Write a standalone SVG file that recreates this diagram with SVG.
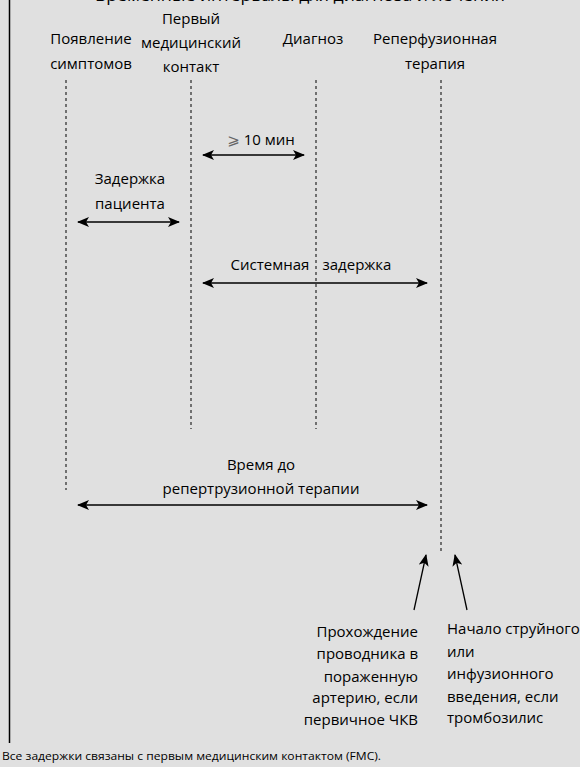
<svg xmlns="http://www.w3.org/2000/svg" width="580" height="767" viewBox="0 0 580 767">
<style>
text{font-family:"Open Sans","Liberation Sans","DejaVu Sans",sans-serif;fill:#000;}
.lb{font-size:15px;text-anchor:middle;}
.bt{font-size:15px;}
.dl{stroke:#000;stroke-width:1;stroke-dasharray:3 3;fill:none;}
.ar{stroke:#000;stroke-width:1.5;fill:none;marker-start:url(#ah);marker-end:url(#ah);}
.ar1{stroke:#000;stroke-width:1.3;fill:none;marker-end:url(#ah);}
</style>
<defs>
<marker id="ah" viewBox="0 0 12 10" refX="11" refY="5" markerWidth="12" markerHeight="10" markerUnits="userSpaceOnUse" orient="auto-start-reverse">
<path d="M0,0 L12,5 L0,10 L3,5 Z" fill="#000"/>
</marker>
</defs>
<rect x="0" y="0" width="580" height="767" fill="#e0e0e0"/>
<line x1="9.5" y1="0" x2="9.5" y2="743" stroke="#000" stroke-width="1.5"/>
<text x="95" y="1" style="font-size:15px" textLength="410" lengthAdjust="spacingAndGlyphs">Временные интервалы для диагноза и лечения</text>

<g id="n-symptoms">
<text class="lb" x="91" y="44">Появление</text>
<text class="lb" x="91" y="69">симптомов</text>
</g>
<g id="n-fmc">
<text class="lb" x="191" y="24">Первый</text>
<text class="lb" x="191" y="48">медицинский</text>
<text class="lb" x="191" y="72">контакт</text>
</g>
<g id="n-diagnosis">
<text class="lb" x="313" y="44">Диагноз</text>
</g>
<g id="n-reperfusion">
<text class="lb" x="435" y="44">Реперфузионная</text>
<text class="lb" x="435" y="69">терапия</text>
</g>

<g id="connectors">
<line class="dl" x1="66" y1="80" x2="66" y2="490"/>
<line class="dl" x1="191" y1="80" x2="191" y2="429"/>
<line class="dl" x1="316" y1="80" x2="316" y2="429"/>
<line class="dl" x1="441" y1="80" x2="441" y2="552"/>
<line class="ar" x1="203" y1="155" x2="304" y2="155"/>
<line class="ar" x1="78" y1="222" x2="179" y2="222"/>
<line class="ar" x1="203" y1="283" x2="427" y2="283"/>
<line class="ar" x1="78" y1="505" x2="427" y2="505"/>
<line class="ar1" x1="414" y1="610" x2="426" y2="555"/>
<line class="ar1" x1="467" y1="610" x2="455" y2="555"/>
</g>

<g id="l-10min">
<text class="lb" x="261" y="145"><tspan fill="#666">⩾</tspan> 10 мин</text>
</g>
<g id="l-patient">
<text class="lb" x="130" y="184">Задержка</text>
<text class="lb" x="130" y="209">пациента</text>
</g>
<g id="l-system">
<text class="lb" x="270" y="270">Системная</text>
<text class="lb" x="357" y="270">задержка</text>
</g>
<g id="l-time">
<text class="lb" x="261" y="470">Время до</text>
<text class="lb" x="261" y="494">репертрузионной терапии</text>
</g>
<g id="n-pci" text-anchor="end">
<text class="bt" x="418" y="637">Прохождение</text>
<text class="bt" x="418" y="659">проводника в</text>
<text class="bt" x="418" y="682">пораженную</text>
<text class="bt" x="418" y="703">артерию, если</text>
<text class="bt" x="418" y="725">первичное ЧКВ</text>
</g>
<g id="n-lysis">
<text class="bt" x="447" y="634">Начало струйного</text>
<text class="bt" x="447" y="657">или</text>
<text class="bt" x="447" y="679">инфузионного</text>
<text class="bt" x="447" y="702">введения, если</text>
<text class="bt" x="447" y="723">тромбозилис</text>
</g>
<text x="2" y="760" style="font-size:11.5px" textLength="379" lengthAdjust="spacingAndGlyphs">Все задержки связаны с первым медицинским  контактом (FMC).</text>
</svg>
